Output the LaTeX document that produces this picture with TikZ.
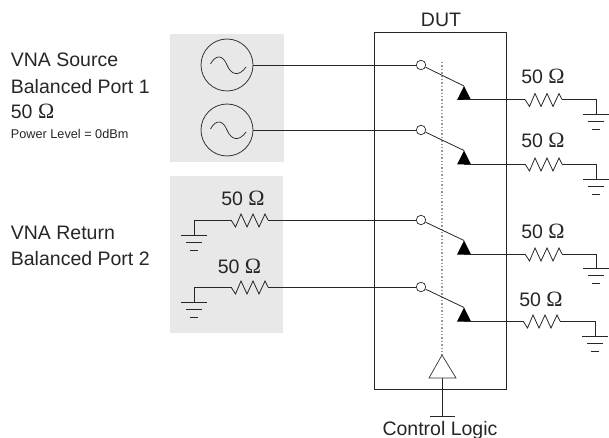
\documentclass[tikz,border=0pt]{standalone}
\usepackage{fontspec}
\setmainfont{Liberation Sans}
\newfontfamily\omegafont[Scale=1.12]{Liberation Serif}
\newcommand{\ohm}{{\omegafont Ω}}
\begin{document}
\begin{tikzpicture}[x=1pt,y=-1pt,line width=0.8pt,
  wire/.style={draw=black!85,line width=0.8pt},
  panel/.style={fill=black!9,draw=none},
  txt/.style={inner sep=0pt,font=\fontsize{19.5}{22}\selectfont,text=black!85,anchor=base},
  lbl/.style={txt,anchor=base west},
  contact/.style={circle,draw=black!85,fill=white,minimum size=9.5pt,inner sep=0pt,line width=0.7pt},
  source/.style={circle,draw=black!80,minimum size=52pt,inner sep=0pt,line width=0.8pt},
  tip/.style={fill=black,draw=none},
  buffer/.style={draw=black!80,fill=white,line width=0.7pt}]
\useasboundingbox (0,0) rectangle (609,438);
% panels
\fill[panel] (170,34) rectangle (284,162);
\fill[panel] (170,176) rectangle (283,333);
% DUT
\node[draw=black!85,minimum width=132pt,minimum height=356.5pt,inner sep=0pt,line width=0.8pt] (dut) at (440.5,210.75) {};
\draw[black!40,line width=1.4pt,dash pattern=on 1.4pt off 2pt] (442,62) -- (442,355);
% helper macros
\newcommand{\zig}[3]{% name, x, y
  \coordinate (#1a) at (#2,#3);
  \coordinate (#1b) at (#2+37,#3);
  \draw[wire] (#1a) -- ++(4.5,7) -- ++(5.5,-13) -- ++(6,13) -- ++(6,-13) -- ++(6,13) -- ++(6,-13) -- (#1b);
}
\newcommand{\gnd}[3]{% name, x, y
  \coordinate (#1) at (#2,#3);
  \draw[wire] (#2-13,#3) -- (#2+13,#3);
  \draw[wire] (#2-8,#3+7) -- (#2+8,#3+7);
  \draw[wire] (#2-4,#3+15) -- (#2+4,#3+15);
}
\newcommand{\switch}[3]{% name, y contact, y wire
  \node[contact] (#1c) at (421,#2) {};
  \coordinate (#1p) at (464,#3-13.5);
  \coordinate (#1q) at (464,#3);
  \draw[wire] (#1c) -- (#1p);
  \fill[tip] (#1p) -- (457,#3+0.5) -- (471,#3+0.5) -- cycle;
}
% switches
\switch{sa}{65}{99.5}
\switch{sb}{130}{164}
\switch{sc}{220}{254}
\switch{sd}{287}{321}
% sources
\node[source] (va) at (227,65) {};
\node[source] (vb) at (227,130) {};
\draw[wire,line width=0.7pt] (210.5,64) .. controls (216,54) and (223,55) .. (227,65) .. controls (231,75) and (239,77) .. (246,67);
\draw[wire,line width=0.7pt] (210.5,129) .. controls (216,119) and (223,120) .. (227,130) .. controls (231,140) and (239,142) .. (246,132);
\draw[wire] (va) -- (sac);
\draw[wire] (vb) -- (sbc);
% left resistors
\zig{la}{231}{220}
\zig{lb}{231}{287}
\gnd{lga}{194}{235}
\gnd{lgb}{194}{302}
\draw[wire] (lga) |- (laa);
\draw[wire] (lgb) |- (lba);
\draw[wire] (lab) -- (scc);
\draw[wire] (lbb) -- (sdc);
% right resistors
\zig{ra}{525}{99.5}
\zig{rb}{525}{164}
\zig{rc}{525}{254}
\zig{rd}{523}{321}
\gnd{rga}{596}{114.5}
\gnd{rgb}{596}{179.5}
\gnd{rgc}{596}{268.5}
\gnd{rgd}{595}{336}
\draw[wire] (saq) -- (raa);
\draw[wire] (sbq) -- (rba);
\draw[wire] (scq) -- (rca);
\draw[wire] (sdq) -- (rda);
\draw[wire] (rab) -| (rga);
\draw[wire] (rbb) -| (rgb);
\draw[wire] (rcb) -| (rgc);
\draw[wire] (rdb) -| (rgd);
% control buffer
\draw[buffer] (442,355) -- (429,378) -- (456,378) -- cycle;
\coordinate (bufb) at (442,378);
\coordinate (ctl) at (442,416);
\draw[wire] (bufb) -- (ctl);
\draw[wire] (430,416) -- (455,416);
% labels
\node[txt] (tdut) at (441,26.5) {DUT};
\node[txt] (tctl) at (440,435) {Control Logic};
\node[txt] (r1) at (543,83.5) {50 \ohm};
\node[txt] (r2) at (543,148) {50 \ohm};
\node[txt] (r3) at (543,238) {50 \ohm};
\node[txt] (r4) at (541,306) {50 \ohm};
\node[txt] (l1) at (243,205.5) {50 \ohm};
\node[txt] (l2) at (239.5,273) {50 \ohm};
\node[lbl] (s1) at (10.5,67) {VNA Source};
\node[lbl] (s2) at (10.5,94) {Balanced Port 1};
\node[lbl] (s3) at (10.5,119) {50 \ohm};
\node[lbl,font=\fontsize{12.7}{14}\selectfont] (s4) at (10.5,139) {Power Level = 0dBm};
\node[lbl] (s5) at (10.5,239) {VNA Return};
\node[lbl] (s6) at (10.5,265) {Balanced Port 2};
\end{tikzpicture}
\end{document}
